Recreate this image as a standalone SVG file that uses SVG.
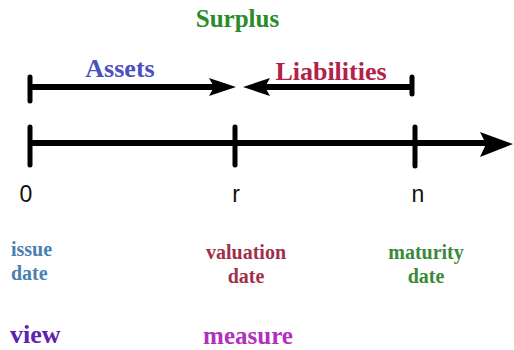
<svg xmlns="http://www.w3.org/2000/svg" width="514" height="350" viewBox="0 0 514 350">
<style>
.lbl{font-family:"Liberation Serif","Times New Roman",serif;font-weight:bold}
.ax{font-family:"Liberation Sans",Arial,sans-serif;font-size:23px;fill:#111}
.ln{stroke:#000;stroke-width:6;fill:none}
.tk{stroke:#000;stroke-width:5;stroke-linecap:round;fill:none}
</style>
<rect width="514" height="350" fill="#fff"/>
<g id="connectors">
  <g id="assets-arrow">
    <line class="ln" x1="30" y1="87" x2="215" y2="87"/>
    <line class="tk" x1="30" y1="77" x2="30" y2="101"/>
    <path d="M236,87 L209,78 L214,87 L209,96 Z" fill="#000"/>
  </g>
  <g id="liabilities-arrow">
    <line class="ln" x1="262" y1="87" x2="412" y2="87"/>
    <line class="tk" x1="412" y1="77" x2="412" y2="94"/>
    <path d="M243,87 L270,78 L265,87 L270,96 Z" fill="#000"/>
  </g>
  <g id="timeline">
    <line class="ln" x1="30" y1="143" x2="488" y2="143"/>
    <line class="tk" x1="30" y1="127" x2="30" y2="165"/>
    <line class="tk" x1="235" y1="127" x2="235" y2="165"/>
    <line class="tk" x1="415" y1="127" x2="415" y2="166"/>
    <path d="M513,144 L480,132 L486,144 L480,157 Z" fill="#000"/>
  </g>
</g>
<g id="surplus"><text class="lbl" x="237.5" y="27" text-anchor="middle" font-size="25" fill="#2a8c2a">Surplus</text></g>
<g id="assets"><text class="lbl" x="120" y="77" text-anchor="middle" font-size="26" fill="#4a50c0">Assets</text></g>
<g id="liabilities"><text class="lbl" x="331" y="80" text-anchor="middle" font-size="26" fill="#b52048">Liabilities</text></g>
<g id="t0"><text class="ax" x="26" y="202" text-anchor="middle">0</text></g>
<g id="tr"><text class="ax" x="236" y="202" text-anchor="middle">r</text></g>
<g id="tn"><text class="ax" x="418" y="202" text-anchor="middle">n</text></g>
<g id="issue-date"><text class="lbl" font-size="20" fill="#4a7fb0"><tspan x="11" y="256">issue</tspan><tspan x="11" y="280">date</tspan></text></g>
<g id="valuation-date"><text class="lbl" font-size="20" fill="#a0304a" text-anchor="middle"><tspan x="246" y="259">valuation</tspan><tspan x="246" y="283">date</tspan></text></g>
<g id="maturity-date"><text class="lbl" font-size="20" fill="#3a8a3a" text-anchor="middle"><tspan x="426" y="259">maturity</tspan><tspan x="426" y="283">date</tspan></text></g>
<g id="view"><text class="lbl" x="10" y="343" font-size="26" fill="#6020b0">view</text></g>
<g id="measure"><text class="lbl" x="248" y="344" text-anchor="middle" font-size="25" fill="#b030c0">measure</text></g>
</svg>
